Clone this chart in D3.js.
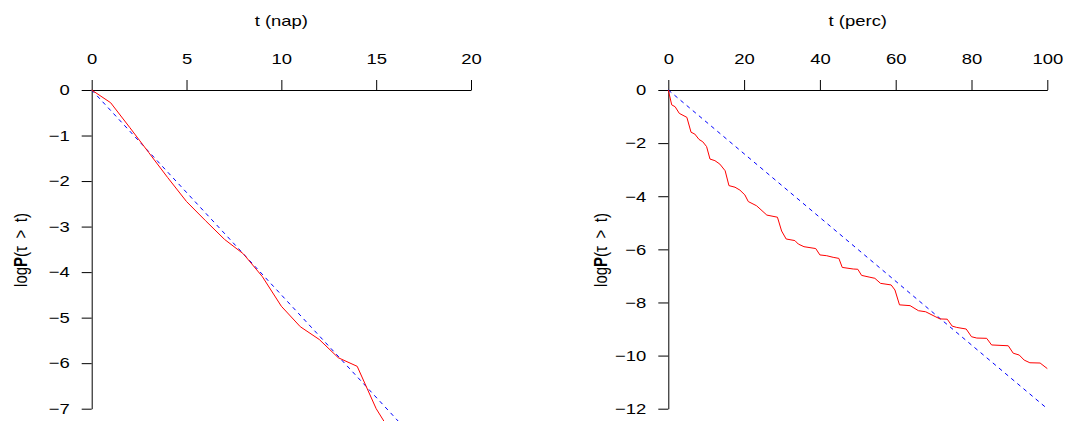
<!DOCTYPE html>
<html><head><meta charset="utf-8">
<script src="https://cdn.jsdelivr.net/npm/d3@7"></script>
<style>
body{margin:0;background:#fff}
svg{display:block;background:#fff}
text{font-family:"Liberation Sans",Arial,Helvetica,sans-serif}
</style>
</head><body>
<svg id="c" width="1066" height="421"></svg>
<script>
// ---- data ----
const napXTicks = [0, 5, 10, 15, 20];
const napYTicks = [0, -1, -2, -3, -4, -5, -6, -7];
const napT    = [0, 1, 2, 3, 4, 5, 6, 7, 8, 9, 10, 11, 12, 13, 14, 15, 16];
const napLogP = [0, -0.28, -0.82, -1.37, -1.92, -2.45, -2.87, -3.28, -3.6, -4.1, -4.75, -5.2, -5.48, -5.88, -6.07, -7.0, -7.67];
const napFitT    = [0, 20];
const napFitLogP = [0, -9];

const percXTicks = [0, 20, 40, 60, 80, 100];
const percYTicks = [0, -2, -4, -6, -8, -10, -12];
const percT = [0, 0.9, 1.8, 2.9, 4.9, 6.0, 7.0, 8.1, 9.1, 10.1, 11.0, 12.3, 13.6, 15.0, 16.0, 17.6, 18.9, 20.2, 21.1, 23.3, 26.0, 28.8, 29.9, 31.1, 33.4, 34.3, 35.8, 38.9, 40.0, 41.8, 43.5, 45.0, 45.9, 48.8, 50.0, 51.0, 53.2, 54.5, 56.0, 58.8, 59.8, 61.0, 63.8, 66.0, 67.9, 70.4, 71.7, 73.6, 74.9, 76.1, 78.6, 80.0, 81.4, 84.0, 85.3, 89.7, 91.0, 92.6, 93.9, 95.4, 98.1, 100];
const percLogP = [0, -0.56, -0.63, -0.88, -1.03, -1.59, -1.66, -1.86, -1.95, -2.13, -2.60, -2.66, -2.79, -3.04, -3.60, -3.66, -3.77, -3.95, -4.20, -4.36, -4.71, -4.79, -5.31, -5.61, -5.67, -5.80, -5.90, -5.97, -6.21, -6.24, -6.30, -6.34, -6.68, -6.74, -6.75, -6.98, -7.05, -7.09, -7.28, -7.34, -7.53, -8.09, -8.12, -8.31, -8.35, -8.53, -8.62, -8.63, -8.89, -8.94, -9.00, -9.29, -9.34, -9.35, -9.60, -9.63, -9.91, -9.98, -10.17, -10.27, -10.28, -10.49];
const percFitT    = [0, 100];
const percFitLogP = [0, -12];

// ---- drawing ----
const SX = 1.23;       // horizontal stretch of the reference's lettering
const FS = 15;
const svg = d3.select("#c");

function panel(o) {
  const x = d3.scaleLinear().domain([o.xTicks[0], o.xTicks[o.xTicks.length-1]]).range(o.xr);
  const y = d3.scaleLinear().domain([o.yTicks[0], o.yTicks[o.yTicks.length-1]]).range([90, 408.7]);
  const g = svg.append("g");

  const ax = g.append("g").attr("transform", `translate(0,${y(0)})`)
    .call(d3.axisTop(x).tickValues(o.xTicks).tickSize(10).tickPadding(16).tickSizeOuter(0).tickFormat(d3.format("d")));
  const ay = g.append("g").attr("transform", `translate(${x(0)},0)`)
    .call(d3.axisLeft(y).tickValues(o.yTicks).tickSize(10).tickPadding(12).tickSizeOuter(0).tickFormat(d3.format("d")));
  [ax, ay].forEach(a => {
    a.attr("font-size", FS).attr("font-family", null);
    a.selectAll("line,path").attr("stroke", "#000").attr("stroke-width", 1);
    a.selectAll("text").attr("fill", "#000").each(function() {
      const t = d3.select(this);
      const tx = +t.attr("x") || 0, ty = +t.attr("y") || 0;
      t.attr("x", 0).attr("y", 0).attr("transform", `translate(${tx},${ty}) scale(${SX},1)`);
    });
  });

  const line = d3.line().x(d => x(d[0])).y(d => y(d[1]));
  g.append("path").datum(d3.zip(o.fitT, o.fitV)).attr("d", line)
    .attr("fill", "none").attr("stroke", "#0000ff").attr("stroke-width", 1).attr("stroke-dasharray", "4,4");
  g.append("path").datum(d3.zip(o.t, o.v)).attr("d", line)
    .attr("fill", "none").attr("stroke", "#ff0000").attr("stroke-width", 1);

  const cx = (o.xr[0] + o.xr[1]) / 2;
  g.append("text").attr("transform", `translate(${cx},26) scale(${SX},1)`)
    .attr("text-anchor", "middle").attr("font-size", FS).text(o.title);

  const yl = g.append("text").attr("transform", `translate(${o.ylx},250) scale(${SX},1) rotate(-90)`)
    .attr("text-anchor", "middle").attr("font-size", FS);
  yl.append("tspan").text("log");
  yl.append("tspan").attr("font-weight", "bold").text("P");
  yl.append("tspan").text("(\u03C4\u2002>\u2002t)");
}

panel({xTicks: napXTicks, yTicks: napYTicks, xr: [91.7, 471], t: napT, v: napLogP,
       fitT: napFitT, fitV: napFitLogP, title: "t (nap)", ylx: 27.3});
panel({xTicks: percXTicks, yTicks: percYTicks, xr: [668.3, 1047.3], t: percT, v: percLogP,
       fitT: percFitT, fitV: percFitLogP, title: "t (perc)", ylx: 607.3});
</script>
</body></html>
